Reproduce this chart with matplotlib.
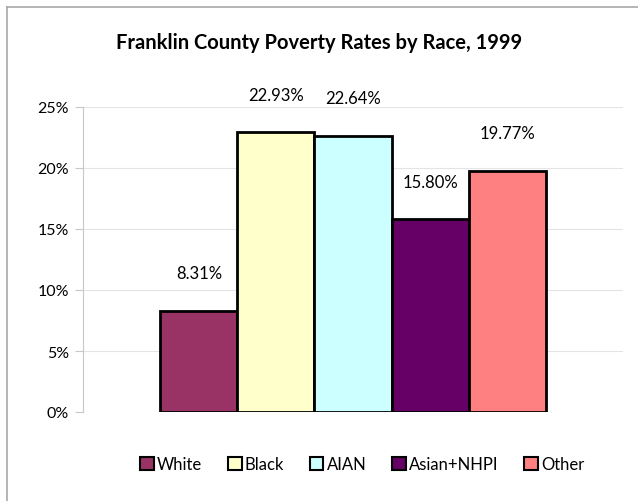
import matplotlib.pyplot as plt
from matplotlib.lines import Line2D
from matplotlib.patches import Patch

# ----------- DATA -----------
races = ['White', 'Black', 'AIAN', 'Asian+NHPI', 'Other']
rates = [8.31, 22.93, 22.64, 15.80, 19.77]
colors = ['#993366', '#FFFFCC', '#CCFFFF', '#660066', '#FF8080']
yticks = [0, 5, 10, 15, 20, 25]

plt.rcParams['font.family'] = ['Lato', 'DejaVu Sans']

fig = plt.figure(figsize=(6.38, 5.02), dpi=100)
ax = fig.add_axes([83 / 638, 1 - 413 / 502, 540 / 638, 305 / 502])

# one category group, bars packed side by side
w = 0.1426
for i, (name, val, c) in enumerate(zip(races, rates, colors)):
    x = (i - 2) * w
    ax.bar(x, val, width=w, color=c, edgecolor='black', linewidth=2, zorder=3)
    ax.annotate('%.2f%%' % val, (x, val), xytext=(0, 27), textcoords='offset points',
                ha='center', va='center', fontsize=12)

ax.set_xlim(-0.5, 0.5)
ax.set_ylim(0, 25)
ax.set_yticks(yticks)
ax.set_yticklabels(['%d%%' % t for t in yticks], fontsize=11.5)
ax.set_xticks([])
ax.grid(axis='y', color='#E4E4E4', linewidth=0.8, zorder=0)
for s in ['top', 'right', 'bottom']:
    ax.spines[s].set_visible(False)
ax.spines['left'].set_color('#C8C8C8')
ax.tick_params(axis='y', length=6, color='#C8C8C8', pad=4)

# chart frame (left and top edges)
fig.add_artist(Line2D([7 / 638, 7 / 638], [0, 1 - 8 / 502], transform=fig.transFigure,
                      color='#A8A8A8', linewidth=1.2))
fig.add_artist(Line2D([7 / 638, 1], [1 - 8 / 502, 1 - 8 / 502], transform=fig.transFigure,
                      color='#A8A8A8', linewidth=1.2))

fig.text(319 / 638, 1 - 43 / 502, 'Franklin County Poverty Rates by Race, 1999',
         ha='center', va='center', fontsize=14.5, fontweight='bold')

handles = [Patch(facecolor=c, edgecolor='black', linewidth=1.5) for c in colors]
fig.legend(handles, races, loc='center', bbox_to_anchor=(0.568, 1 - 465 / 502), ncol=5,
           frameon=False, fontsize=12, handlelength=0.8, handleheight=0.8,
           handletextpad=0.2, columnspacing=1.55)

fig.savefig('out.png', dpi=100)
